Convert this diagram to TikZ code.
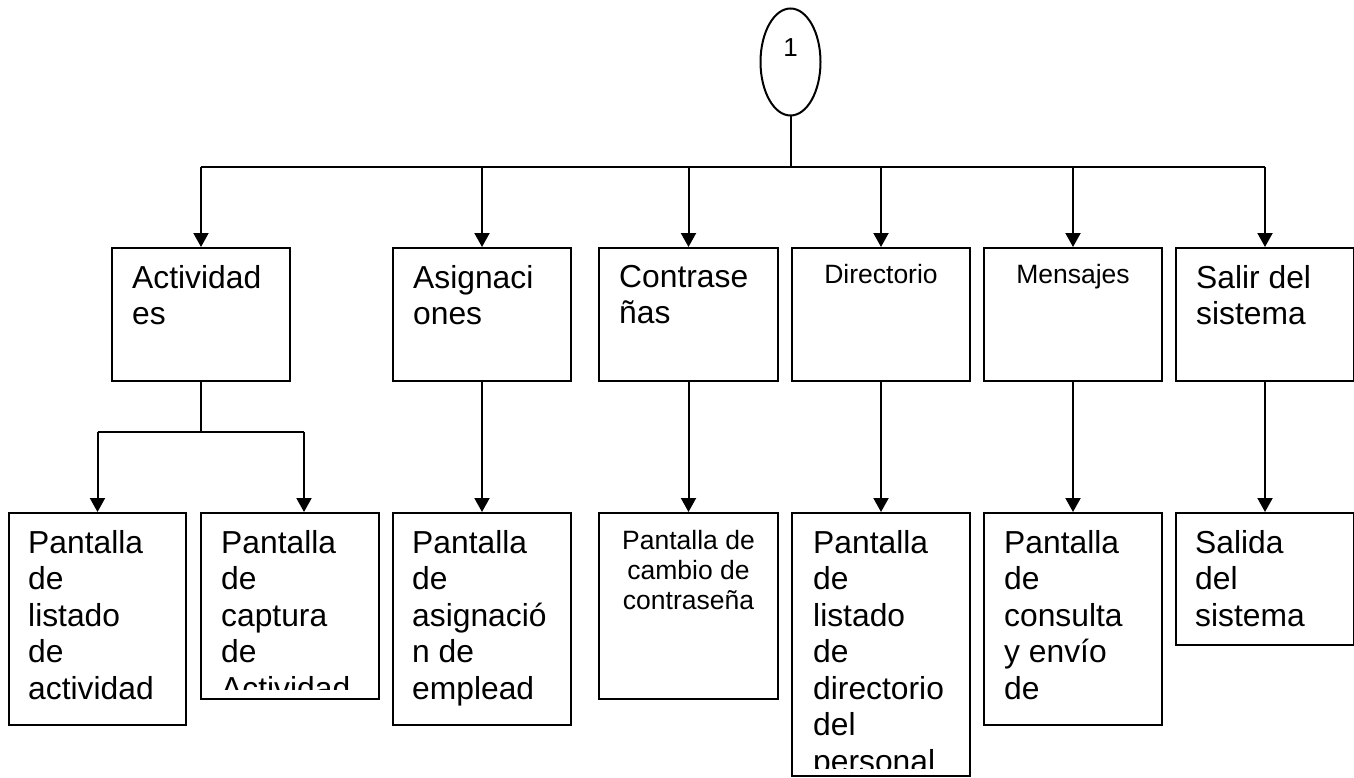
\documentclass[tikz,border=0pt]{standalone}
\usepackage{fontspec}
\setmainfont{Liberation Sans}
\usetikzlibrary{arrows.meta,shapes.geometric,calc}
\begin{document}
\begin{tikzpicture}[x=1pt,y=-1pt,
  ln/.style={line width=2pt},
  arr/.style={line width=2pt,-{Triangle[width=15pt,length=14pt]}},
  box/.style={draw,rectangle,line width=2pt,inner sep=0pt,anchor=north west},
  big/.style={font=\fontsize{31.8pt}{36.5pt}\selectfont,align=left,inner sep=0pt,anchor=north west},
  small/.style={font=\fontsize{26.5pt}{30pt}\selectfont,align=center,inner sep=0pt,anchor=north}]
\useasboundingbox (0,0) rectangle (1354,778);

% root
\node[draw,ellipse,ln,minimum width=60pt,minimum height=107pt,inner sep=0pt,
      font=\fontsize{26pt}{30pt}\selectfont,text height=18pt,text depth=28pt] (root) at (790.5,62) {1};

% top row
\node[box,minimum width=178pt,minimum height=133pt] (t1) at (111,247) {};
\node[box,minimum width=178pt,minimum height=133pt] (t2) at (392,247) {};
\node[box,minimum width=179pt,minimum height=133pt] (t3) at (598,247) {};
\node[box,minimum width=178pt,minimum height=133pt] (t4) at (791,247) {};
\node[box,minimum width=178pt,minimum height=133pt] (t5) at (983,247) {};
\node[box,minimum width=178pt,minimum height=133pt] (t6) at (1175,247) {};

\node[big] (t1t) at ([xshift=21pt,yshift=-18pt]t1.north west) {Actividad\\es};
\node[big] (t2t) at ([xshift=21pt,yshift=-18pt]t2.north west) {Asignaci\\ones};
\node[big] (t3t) at ([xshift=21pt,yshift=-18pt]t3.north west) {Contrase\\ñas};
\node[small] (t4t) at ([yshift=-17pt]t4.north) {Directorio};
\node[small] (t5t) at ([yshift=-17pt]t5.north) {Mensajes};
\node[big] (t6t) at ([xshift=21pt,yshift=-18pt]t6.north west) {Salir del\\sistema};

% bottom row
\node[box,minimum width=177pt,minimum height=212pt] (b1) at (8,512) {};
\node[box,minimum width=178pt,minimum height=186pt] (b2) at (200,512) {};
\node[box,minimum width=178pt,minimum height=212pt] (b3) at (392,512) {};
\node[box,minimum width=179pt,minimum height=186pt] (b4) at (598,512) {};
\node[box,minimum width=178pt,minimum height=263pt] (b5) at (791,512) {};
\node[box,minimum width=178pt,minimum height=212pt] (b6) at (983,512) {};
\node[box,minimum width=178pt,minimum height=132pt] (b7) at (1175,512) {};

\node[big] (b1t) at ([xshift=20pt,yshift=-18pt]b1.north west) {Pantalla\\de\\listado\\de\\actividad};
\begin{scope}
  \clip ([xshift=1pt,yshift=-1pt]b2.north west) rectangle ([xshift=-1pt,yshift=11pt]b2.south east);
  \node[big] (b2t) at ([xshift=21pt,yshift=-18pt]b2.north west) {Pantalla\\de\\captura\\de\\Actividad};
\end{scope}
\node[big] (b3t) at ([xshift=20pt,yshift=-18pt]b3.north west) {Pantalla\\de\\asignació\\n de\\emplead};
\node[small] (b4t) at ([yshift=-18pt]b4.north) {Pantalla de\\cambio de\\contraseña};
\begin{scope}
  \clip ([xshift=1pt,yshift=-1pt]b5.north west) rectangle ([xshift=-1pt,yshift=9pt]b5.south east);
  \node[big] (b5t) at ([xshift=22pt,yshift=-18pt]b5.north west) {Pantalla\\de\\listado\\de\\directorio\\del\\personal};
\end{scope}
\node[big] (b6t) at ([xshift=21pt,yshift=-18pt]b6.north west) {Pantalla\\de\\consulta\\y envío\\de};
\node[big] (b7t) at ([xshift=20pt,yshift=-18pt]b7.north west) {Salida\\del\\sistema};

% connectors
\coordinate (bus) at (0,167.5);
\draw[ln] (root.south) -- (root.south |- bus);
\draw[ln] (t1.north |- bus) -- (t6.north |- bus);
\foreach \n in {t1,t2,t3,t4,t5,t6} \draw[arr] (\n.north |- bus) -- (\n.north);

\coordinate (split) at (0,432);
\coordinate (b2in) at ([xshift=14pt]b2.north);
\draw[ln] (t1.south) -- (t1.south |- split);
\draw[ln] (b1.north |- split) -- (b2in |- split);
\draw[arr] (b1.north |- split) -- (b1.north);
\draw[arr] (b2in |- split) -- (b2in);

\draw[arr] (t2.south) -- (b3.north);
\draw[arr] (t3.south) -- (b4.north);
\draw[arr] (t4.south) -- (b5.north);
\draw[arr] (t5.south) -- (b6.north);
\draw[arr] (t6.south) -- (b7.north);
\end{tikzpicture}
\end{document}
